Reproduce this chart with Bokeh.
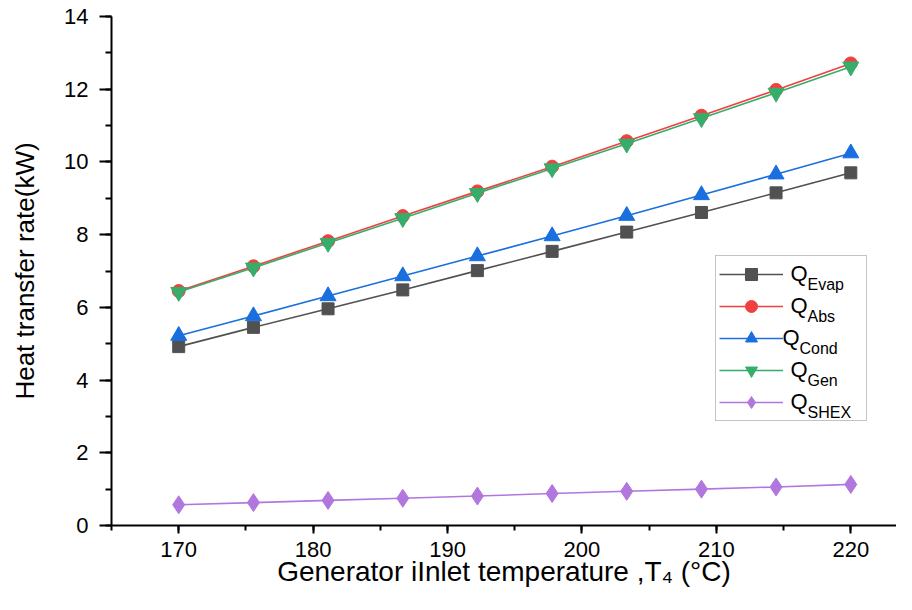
from bokeh.plotting import figure
from bokeh.models import Range1d, Legend, LegendItem, Label, SingleIntervalTicker
from bokeh.embed import file_html
from bokeh.resources import INLINE

# ---- data ----
t_gen = [170, 175.56, 181.11, 186.67, 192.22, 197.78, 203.33, 208.89, 214.44, 220]
q_evap = [4.92, 5.45, 5.96, 6.48, 7.01, 7.54, 8.07, 8.61, 9.15, 9.70]
q_abs = [6.45, 7.13, 7.82, 8.51, 9.19, 9.87, 10.57, 11.27, 11.98, 12.71]
q_cond = [5.22, 5.76, 6.31, 6.86, 7.41, 7.96, 8.52, 9.09, 9.66, 10.24]
q_gen = [6.42, 7.09, 7.77, 8.45, 9.14, 9.82, 10.50, 11.20, 11.90, 12.62]
q_shex = [0.57, 0.63, 0.69, 0.75, 0.81, 0.88, 0.94, 1.00, 1.06, 1.13]

names = ["Evap", "Abs", "Cond", "Gen", "SHEX"]
series = [q_evap, q_abs, q_cond, q_gen, q_shex]
colors = ["#515151", "#F14040", "#1A6FDF", "#37AD6B", "#B177DE"]
markers = ["square", "circle", "triangle", "inverted_triangle", "diamond"]
sizes = [12, 13, 16, 16, 18]

x_title = "Generator iInlet temperature ,T\u2084 (\u00b0C)"
y_title = "Heat transfer rate(kW)"

FONT = "Liberation Sans"

W, H = 896, 594
BL, BT, BB = 111, 16, 69

p = figure(width=W, height=H, output_backend="svg", toolbar_location=None,
           x_range=Range1d(165, 223.4), y_range=Range1d(0, 14),
           min_border_left=BL, min_border_right=0, min_border_top=BT, min_border_bottom=BB)
p.outline_line_color = None
p.xgrid.visible = False
p.ygrid.visible = False
p.background_fill_color = "white"
p.border_fill_color = "white"

p.xaxis.ticker = SingleIntervalTicker(interval=10, num_minor_ticks=2)
p.yaxis.ticker = SingleIntervalTicker(interval=2, num_minor_ticks=2)

for ax in (p.xaxis, p.yaxis):
    ax.axis_line_width = 2
    ax.axis_line_color = "black"
    ax.major_tick_line_width = 2
    ax.minor_tick_line_width = 2
    ax.major_tick_line_color = "black"
    ax.minor_tick_line_color = "black"
    ax.major_tick_in = 0
    ax.minor_tick_in = 0
    ax.major_label_text_font = FONT
    ax.major_label_text_font_size = "22px"
    ax.major_label_text_color = "black"
    ax.axis_label_text_font = FONT
    ax.axis_label_text_font_style = "normal"
    ax.axis_label_text_color = "black"

p.xaxis.major_tick_out = 8
p.xaxis.minor_tick_out = 5
p.yaxis.major_tick_out = 12
p.yaxis.minor_tick_out = 6
p.xaxis.major_label_standoff = 8
p.yaxis.major_label_standoff = 11
p.xaxis.axis_label = x_title
p.xaxis.axis_label_text_font_size = "28px"
p.xaxis.axis_label_standoff = -4
p.yaxis.axis_label = y_title
p.yaxis.axis_label_text_font_size = "26px"
p.yaxis.axis_label_standoff = 21

items = []
for name, ys, c, m, s in zip(names, series, colors, markers, sizes):
    lr = p.line(t_gen, ys, line_color=c, line_width=1.6)
    sr = p.scatter(t_gen, ys, marker=m, size=s, fill_color=c, line_color=c)
    items.append(LegendItem(label=" ", renderers=[lr, sr]))

# legend geometry (screen px relative to frame bottom-left)
leg_left = 604
leg_top = 268
pad = 3
glyph_w = 64
row_h = 30
spacing = 2
n = len(items)
leg_h = 2 * pad + n * row_h + (n - 1) * spacing

legend = Legend(items=items, location=(leg_left, leg_top - leg_h),
                padding=pad, margin=0, spacing=spacing,
                glyph_width=glyph_w, glyph_height=row_h, label_height=row_h,
                label_width=80, label_standoff=0,
                label_text_font_size="2px",
                border_line_color="#8a8a8a", border_line_width=1,
                background_fill_color="white", background_fill_alpha=0.0)
p.add_layout(legend)

q_offsets = [8, 8, 0, 8, 8]
for k, name in enumerate(names):
    cy = leg_top - pad - row_h / 2 - k * (row_h + spacing)
    qx = leg_left + pad + glyph_w + q_offsets[k]
    p.add_layout(Label(x=qx, y=cy + 2, x_units="screen", y_units="screen", text="Q",
                       text_font=FONT, text_font_size="22px", text_baseline="middle",
                       text_color="black", level="overlay"))
    p.add_layout(Label(x=qx + 17, y=cy - 9, x_units="screen", y_units="screen", text=name,
                       text_font=FONT, text_font_size="16px", text_baseline="alphabetic",
                       text_color="black", level="overlay"))

open("out.html", "w").write(file_html(p, INLINE))
